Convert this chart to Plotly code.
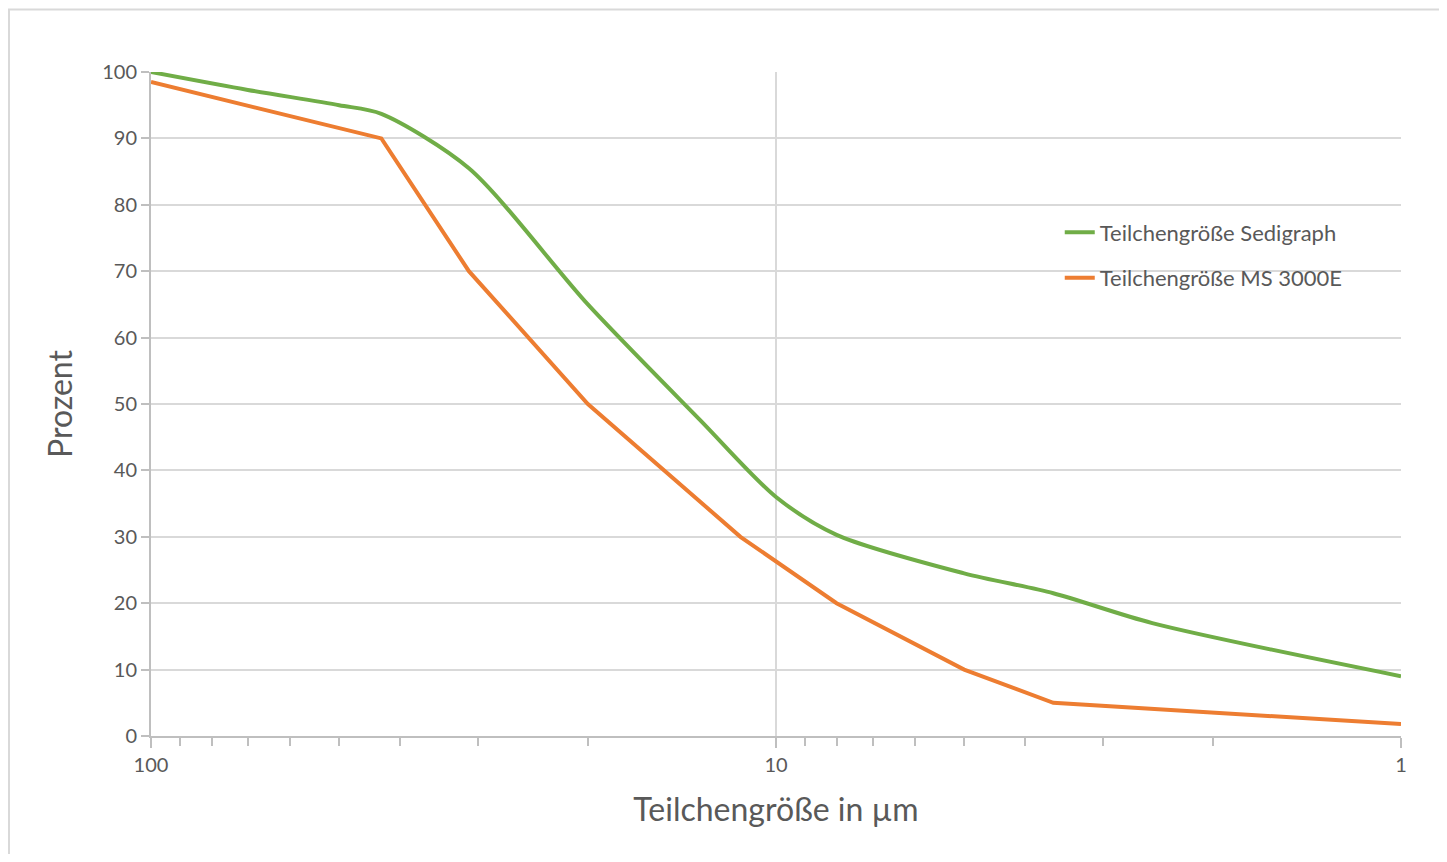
import plotly.graph_objects as go

# particle size in µm (x) vs. cumulative percent (y)
sedi_size = [100, 70, 50, 42.8, 31, 20, 13.2, 10, 8, 5, 3.6, 2.5, 1]
sedi_pct = [100, 97.3, 95, 93.7, 85.5, 65, 47.5, 36, 30.3, 24.5, 21.5, 17, 9]

ms_size = [100, 42.8, 31, 20, 11.4, 8, 5, 3.6, 1]
ms_pct = [98.5, 90, 70, 50, 30, 20, 10, 5, 1.8]

x_ticks = [100, 10, 1]
x_minor = [90, 80, 70, 60, 50, 40, 30, 20, 9, 8, 7, 6, 5, 4, 3, 2]

GREEN = "#70AD47"
ORANGE = "#ED7D31"
TEXT = "#595959"
GRID = "#D9D9D9"
AXIS = "#BFBFBF"
FONT = "Lato, Open Sans, sans-serif"

fig = go.Figure()

fig.add_trace(go.Scatter(
    x=sedi_size, y=sedi_pct,
    mode="lines",
    name="Teilchengröße Sedigraph",
    line=dict(color=GREEN, width=4, shape="spline", smoothing=0.8),
    legendgroup="a",
))

fig.add_trace(go.Scatter(
    x=ms_size, y=ms_pct,
    mode="lines",
    name="Teilchengröße MS 3000E",
    line=dict(color=ORANGE, width=4),
    legendgroup="b",
))

# page body has an 8px margin, so the figure is sized/offset to compensate
fig.update_layout(
    width=1431,
    height=846,
    plot_bgcolor="white",
    paper_bgcolor="white",
    font=dict(family=FONT, color=TEXT, size=20),
    margin=dict(l=143, r=38, t=64, b=118),
    showlegend=True,
    legend=dict(
        x=0.727, y=0.79,
        xanchor="left", yanchor="top",
        bgcolor="rgba(0,0,0,0)",
        font=dict(size=22, color=TEXT),
        tracegroupgap=14,
        traceorder="grouped",
    ),
    xaxis=dict(
        type="log",
        range=[2, 0],
        tickvals=x_ticks,
        ticktext=[str(v) for v in x_ticks],
        ticks="outside",
        ticklen=10,
        tickcolor=AXIS,
        tickwidth=2,
        showline=True,
        linecolor=AXIS,
        linewidth=2,
        showgrid=True,
        gridcolor=GRID,
        gridwidth=2,
        zeroline=False,
        tickfont=dict(size=20, color=TEXT),
        minor=dict(
            tickvals=x_minor,
            ticks="outside",
            ticklen=8,
            tickcolor=AXIS,
            tickwidth=2,
            showgrid=False,
        ),
        title=dict(text="Teilchengröße in µm",
                   font=dict(size=32, color=TEXT), standoff=24),
    ),
    yaxis=dict(
        range=[0, 100],
        dtick=10,
        ticks="outside",
        ticklen=8,
        tickcolor=AXIS,
        tickwidth=2,
        showline=True,
        linecolor=AXIS,
        linewidth=2,
        showgrid=True,
        gridcolor=GRID,
        gridwidth=2,
        zeroline=False,
        tickfont=dict(size=20, color=TEXT),
        title=dict(text="Prozent",
                   font=dict(size=32, color=TEXT), standoff=20),
    ),
    shapes=[
        # chart-area border, cropped on the right and bottom in the original
        dict(type="rect", xref="paper", yref="paper",
             x0=-0.1136, x1=1.06, y0=-0.23, y1=1.0941,
             line=dict(color="#D9D9D9", width=2), layer="below"),
    ],
)

fig.write_html("out.html")
